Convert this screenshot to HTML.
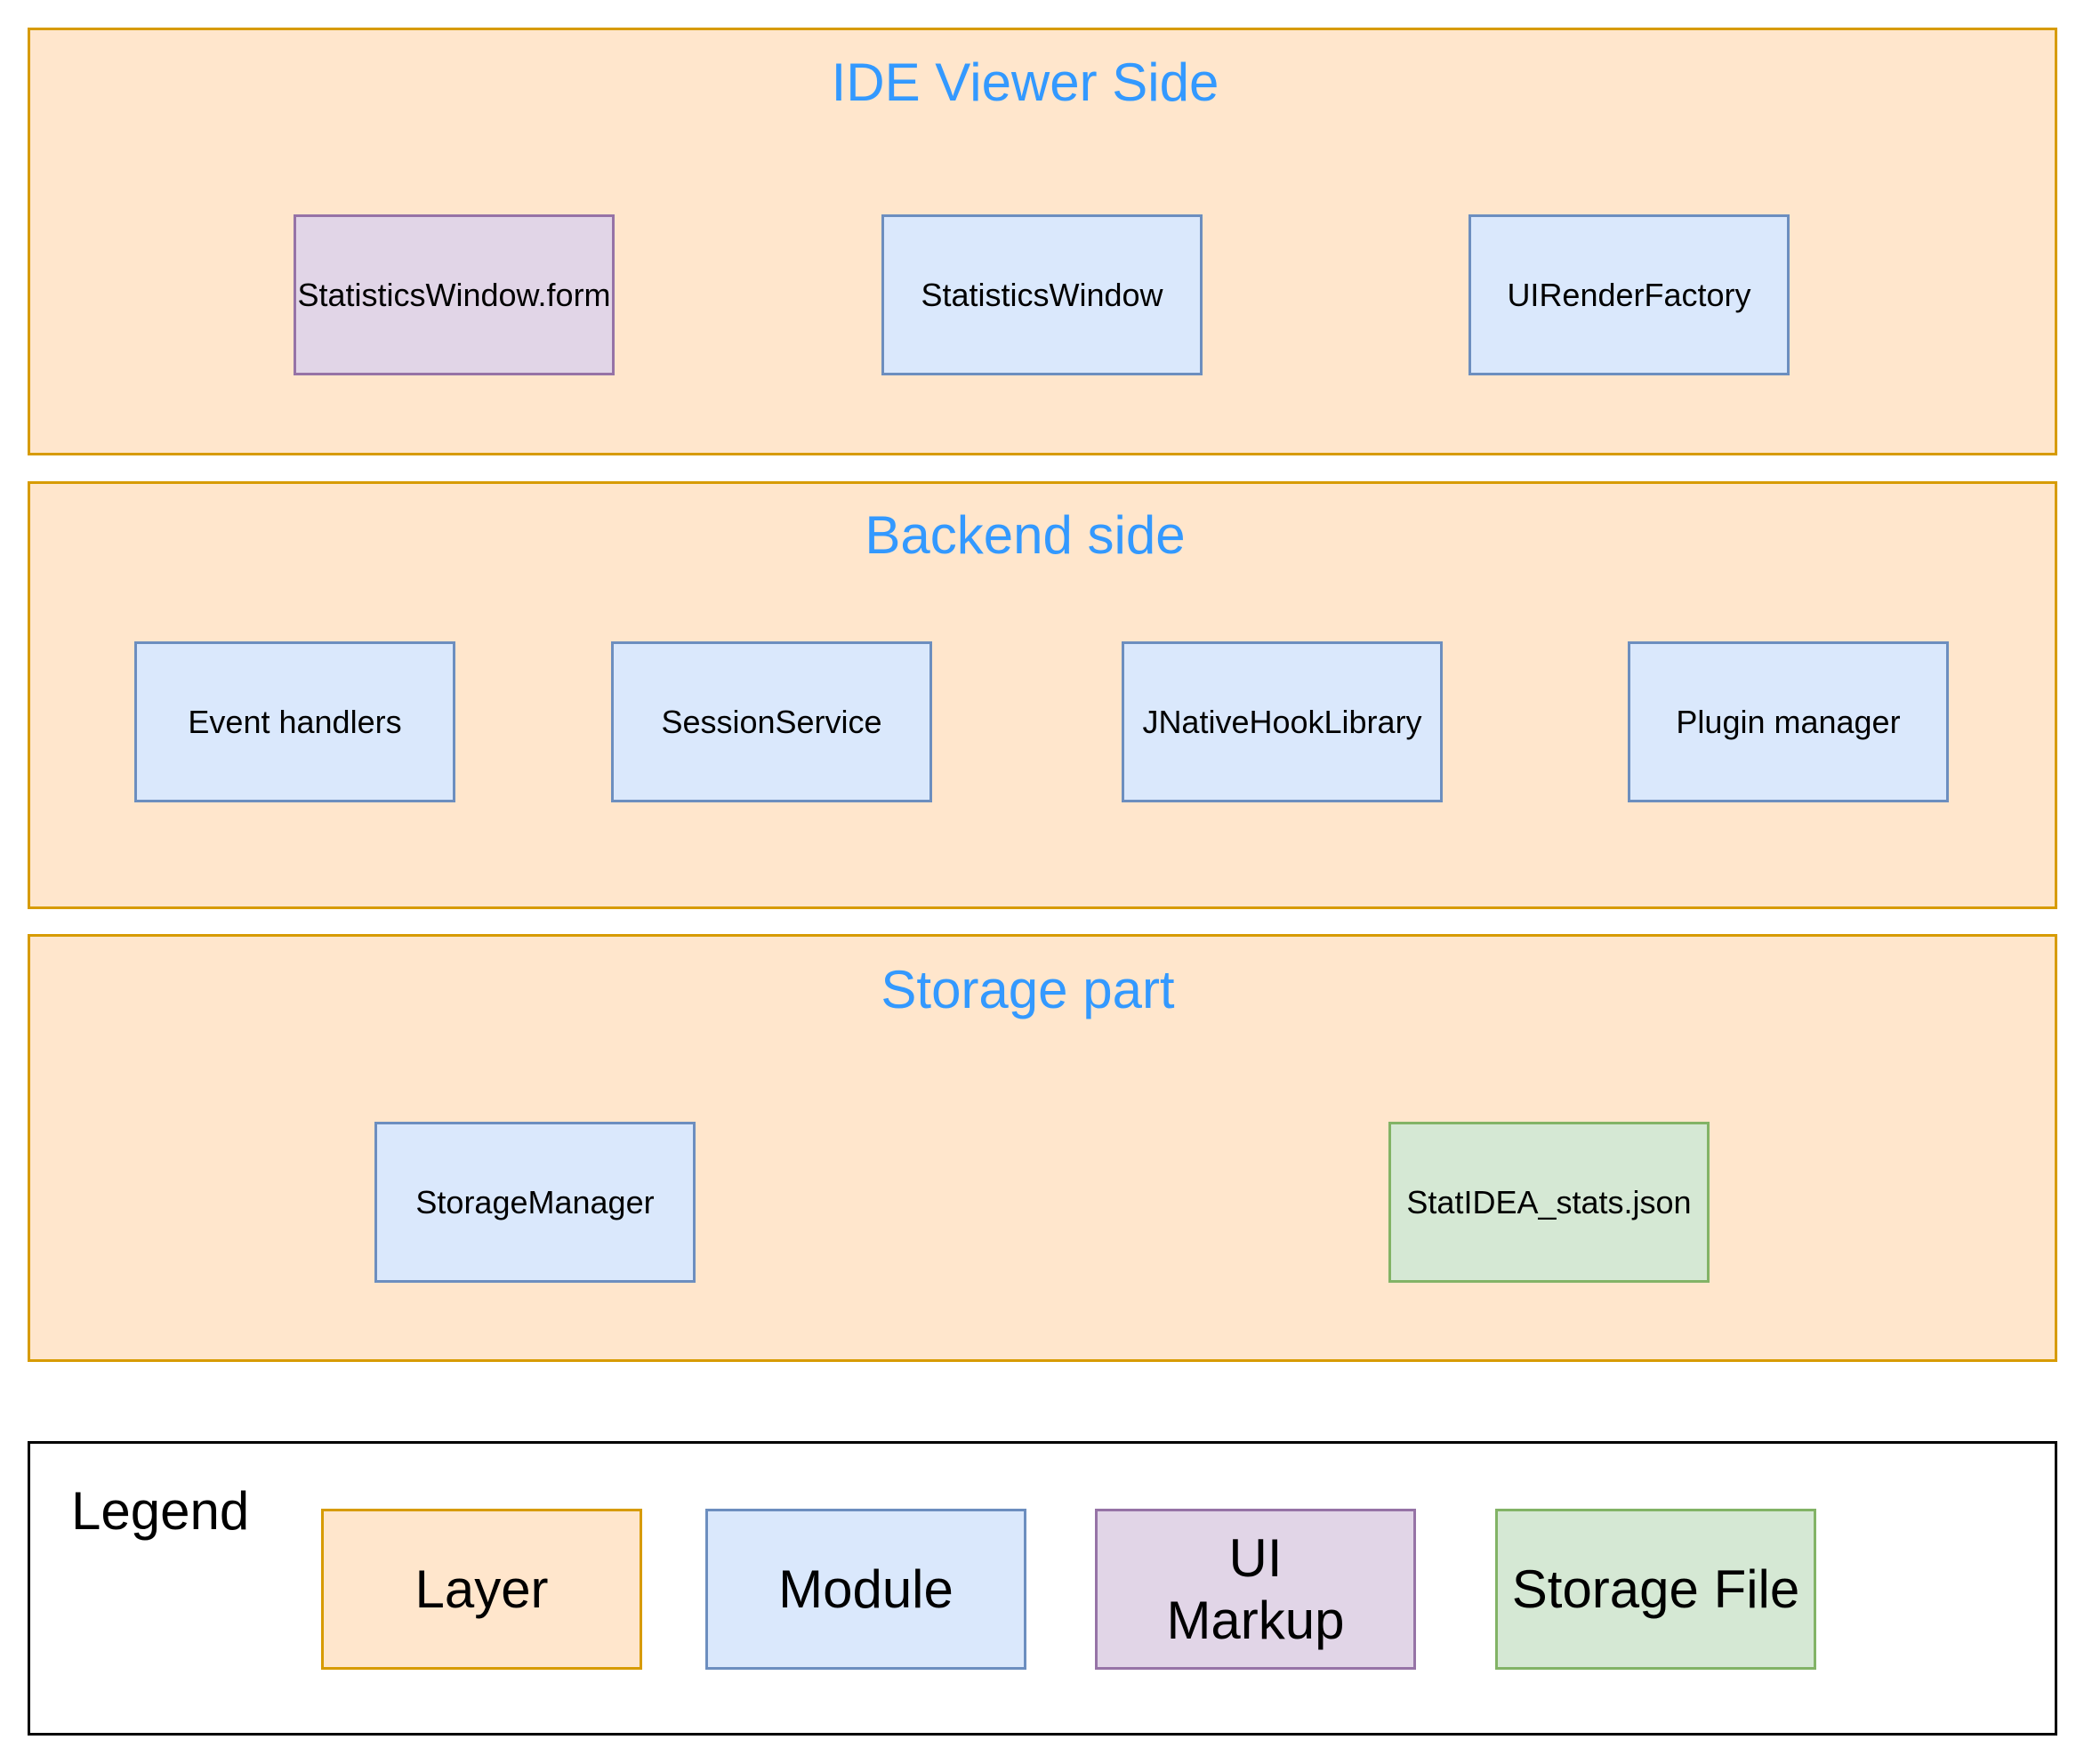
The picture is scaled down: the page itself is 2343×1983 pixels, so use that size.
<!DOCTYPE html>
<html><head><meta charset="utf-8"><style>
body{margin:0;width:2343px;height:1983px;background:#fff;position:relative;font-family:"Liberation Sans",Arial,sans-serif;overflow:hidden}
.b{position:absolute;box-sizing:border-box;border:3px solid;display:flex;align-items:center;justify-content:center;text-align:center;color:#000}
.L{background:#ffe6cc;border-color:#d79b00}
.M{background:#dae8fc;border-color:#6c8ebf;font-size:36px}
.P{background:#e1d5e7;border-color:#9673a6;font-size:36px}
.G{background:#d5e8d4;border-color:#82b366;font-size:36px}
.t{position:absolute;width:2343px;left:0;text-align:center;color:#3399ff;font-size:60px;line-height:1}
.n{width:361px;height:181px}
.lg{font-size:60px;line-height:70px}
</style></head><body>
<div class="b L" style="left:31px;top:31px;width:2282px;height:481px"></div>
<div class="b L" style="left:31px;top:541px;width:2282px;height:481px"></div>
<div class="b L" style="left:31px;top:1050px;width:2282px;height:481px"></div>
<div class="t" style="left:-19px;width:2343px;top:63px">IDE Viewer Side</div>
<div class="t" style="left:-19px;top:572px">Backend side</div>
<div class="t" style="left:-16px;top:1083px">Storage part</div>

<div class="b P n" style="left:330px;top:241px">StatisticsWindow.form</div>
<div class="b M n" style="left:991px;top:241px">StatisticsWindow</div>
<div class="b M n" style="left:1651px;top:241px">UIRenderFactory</div>

<div class="b M n" style="left:151px;top:721px">Event handlers</div>
<div class="b M n" style="left:687px;top:721px">SessionService</div>
<div class="b M n" style="left:1261px;top:721px">JNativeHookLibrary</div>
<div class="b M n" style="left:1830px;top:721px">Plugin manager</div>

<div class="b M n" style="left:421px;top:1261px">StorageManager</div>
<div class="b G n" style="left:1561px;top:1261px">StatIDEA_stats.json</div>

<div class="b" style="left:31px;top:1620px;width:2282px;height:331px;border-color:#000;background:#fff"></div>
<div style="position:absolute;left:80px;top:1664px;font-size:60px;line-height:70px">Legend</div>
<div class="b L n lg" style="left:361px;top:1696px">Layer</div>
<div class="b M n lg" style="left:793px;top:1696px;font-size:60px">Module</div>
<div class="b P n lg" style="left:1231px;top:1696px;font-size:60px">UI<br>Markup</div>
<div class="b G n lg" style="left:1681px;top:1696px;font-size:60px">Storage File</div>
</body></html>
